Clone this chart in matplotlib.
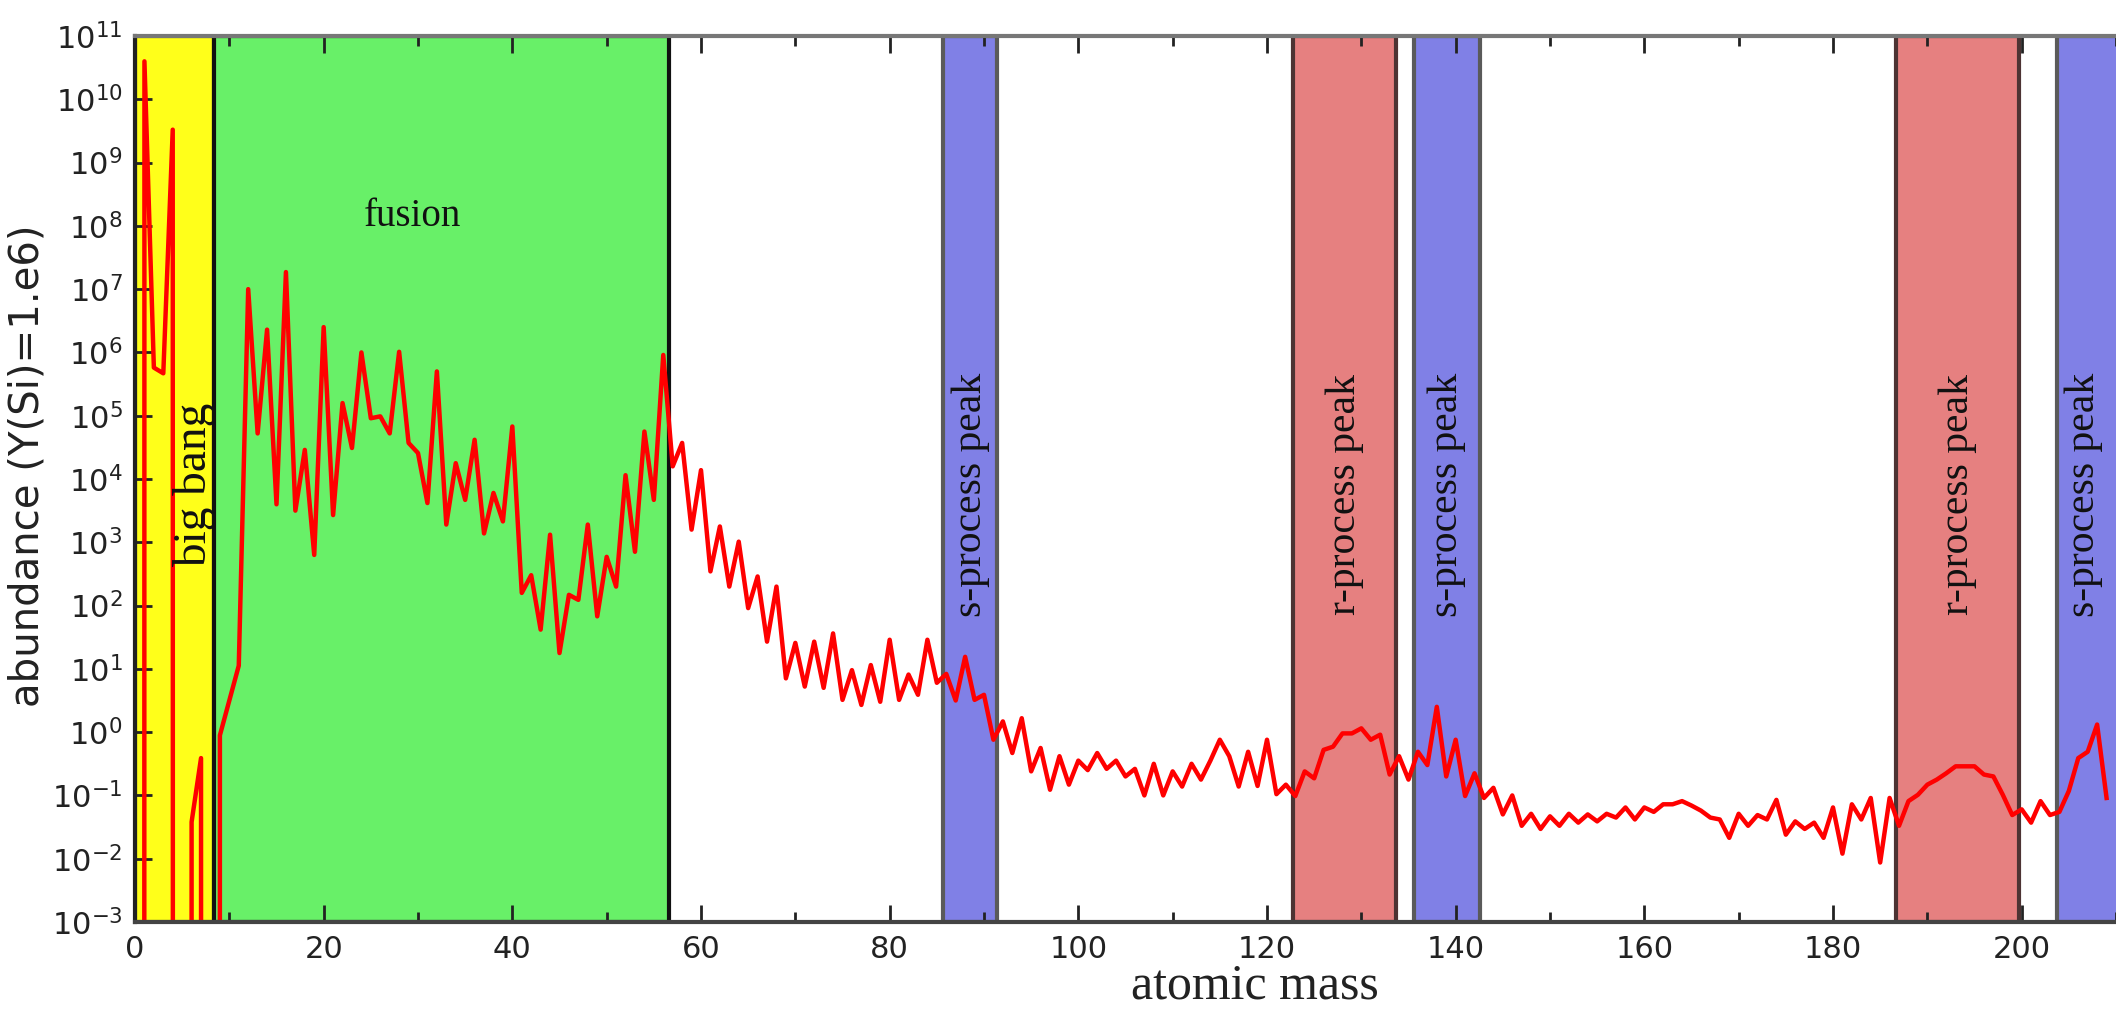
import numpy as np
import matplotlib
matplotlib.use("Agg")
import matplotlib.pyplot as plt
from matplotlib.ticker import MultipleLocator, NullLocator, LogLocator

# mass numbers 0..209, log10 abundance (Y(Si)=1e6); None = zero abundance
mass = np.arange(0, 210)
log_abund = [
    None, 10.6, 5.76, 5.67, 9.52, None, -1.42, -0.41, None, -0.05,          # 0-9
    0.5, 1.05, 7.0, 4.72, 6.36, 3.6, 7.27, 3.5, 4.46, 2.8,                  # 10-19
    6.4, 3.43, 5.2, 4.49, 6.0, 4.96, 4.99, 4.72, 6.01, 4.57,                # 20-29
    4.41, 3.62, 5.7, 3.28, 4.25, 3.67, 4.62, 3.14, 3.78, 3.33,              # 30-39
    4.83, 2.2, 2.48, 1.62, 3.12, 1.25, 2.17, 2.09, 3.28, 1.83,              # 40-49
    2.77, 2.3, 4.06, 2.85, 4.75, 3.67, 5.96, 4.2, 4.57, 3.2,                # 50-59
    4.14, 2.54, 3.25, 2.3, 3.01, 1.96, 2.46, 1.43, 2.3, 0.85,               # 60-69
    1.41, 0.72, 1.43, 0.7, 1.56, 0.51, 0.98, 0.43, 1.06, 0.48,              # 70-79
    1.46, 0.51, 0.91, 0.59, 1.46, 0.78, 0.92, 0.5, 1.19, 0.51,              # 80-89
    0.59, -0.12, 0.17, -0.33, 0.22, -0.62, -0.25, -0.91, -0.38, -0.83,      # 90-99
    -0.45, -0.6, -0.33, -0.58, -0.45, -0.7, -0.58, -1.0, -0.5, -1.0,        # 100-109
    -0.62, -0.86, -0.5, -0.75, -0.45, -0.12, -0.38, -0.86, -0.31, -0.85,    # 110-119
    -0.12, -0.98, -0.83, -1.01, -0.62, -0.73, -0.28, -0.23, -0.02, -0.02,   # 120-129
    0.06, -0.12, -0.04, -0.67, -0.38, -0.75, -0.31, -0.52, 0.4, -0.7,       # 130-139
    -0.12, -1.01, -0.65, -1.04, -0.88, -1.3, -1.0, -1.48, -1.29, -1.53,     # 140-149
    -1.33, -1.48, -1.29, -1.43, -1.3, -1.41, -1.29, -1.35, -1.19, -1.38,    # 150-159
    -1.19, -1.26, -1.14, -1.14, -1.09, -1.16, -1.24, -1.35, -1.38, -1.67,   # 160-169
    -1.29, -1.48, -1.31, -1.38, -1.07, -1.62, -1.41, -1.53, -1.43, -1.67,   # 170-179
    -1.19, -1.92, -1.14, -1.38, -1.04, -2.06, -1.04, -1.48, -1.09, -0.99,   # 180-189
    -0.83, -0.75, -0.65, -0.54, -0.54, -0.54, -0.67, -0.7, -0.99, -1.31,    # 190-199
    -1.22, -1.43, -1.09, -1.31, -1.26, -0.93, -0.41, -0.31, 0.12, -1.04,    # 200-209
]
abund = np.array([0.0 if v is None else 10.0 ** v for v in log_abund])

# shaded regions: (start, end, colour, edge colour, label, label x, label log y)
regions = [
    (0.0, 8.4, "#ffff1a", "#4d5a1a", "big bang", 6.3, 3.9),
    (8.4, 56.6, "#68f068", "#111111", "fusion", 29.4, 8.15),
    (85.7, 91.4, "#8080e6", "#5a5a5a", "s-process peak", 88.55, 3.75),
    (122.8, 133.7, "#e68080", "#4d3333", "r-process peak", 128.25, 3.75),
    (135.6, 142.6, "#8080e6", "#5a5a5a", "s-process peak", 139.1, 3.75),
    (186.7, 199.7, "#e68080", "#4d3333", "r-process peak", 193.2, 3.75),
    (203.7, 216.0, "#8080e6", "#5a5a5a", "s-process peak", 206.6, 3.75),
]

fig = plt.figure(figsize=(21.16, 10.15), dpi=100)
ax = fig.add_axes([135 / 2116, 93 / 1015, 1 - 135 / 2116, 886 / 1015])

for x0, x1, fc, ec, label, lx, ly in regions:
    ax.axvspan(x0, x1, facecolor=fc, edgecolor=ec, linewidth=3, zorder=1)
    if label == "fusion":
        ax.text(lx, 10 ** ly, label, ha="center", va="center", fontsize=28,
                family="Liberation Serif", color="#111111", zorder=3)
    elif label == "big bang":
        ax.text(lx, 10 ** ly, label, ha="center", va="center", rotation=90,
                fontsize=34, family="Liberation Serif", color="#111111", zorder=3)
    else:
        ax.text(lx, 10 ** ly, label, ha="center", va="center", rotation=90,
                fontsize=30, family="Liberation Serif", color="#111111", zorder=3)

ax.plot(mass, abund, color="red", linewidth=3.2, zorder=2)

ax.set_yscale("log", nonpositive="clip")
ax.set_xlim(0, 210)
ax.set_ylim(1e-3, 1e11)
ax.yaxis.set_major_locator(LogLocator(base=10, numticks=20))
ax.yaxis.set_minor_locator(NullLocator())
ax.xaxis.set_major_locator(MultipleLocator(20))
ax.xaxis.set_minor_locator(MultipleLocator(10))

ax.tick_params(which="both", direction="in", top=True, right=False,
               labelsize=22, colors="#222222", pad=9)
ax.tick_params(which="major", length=12, width=2)
ax.tick_params(which="minor", length=7, width=2)

ax.spines["right"].set_visible(False)
ax.spines["left"].set_color("#222222")
ax.spines["top"].set_color("#777777")
ax.spines["bottom"].set_color("#444444")
for s in ["left", "top", "bottom"]:
    ax.spines[s].set_linewidth(3)
    ax.spines[s].set_zorder(4)

fig.text(1255 / 2116, 1 - 986 / 1015, "atomic mass", ha="center", va="center",
         fontsize=36, family="Liberation Serif", color="#222222")
fig.text(28 / 2116, 1 - 466 / 1015, "abundance (Y(Si)=1.e6)", ha="center",
         va="center", rotation=90, fontsize=29, family="DejaVu Sans",
         color="#222222")

fig.savefig("out.png", dpi=100)
